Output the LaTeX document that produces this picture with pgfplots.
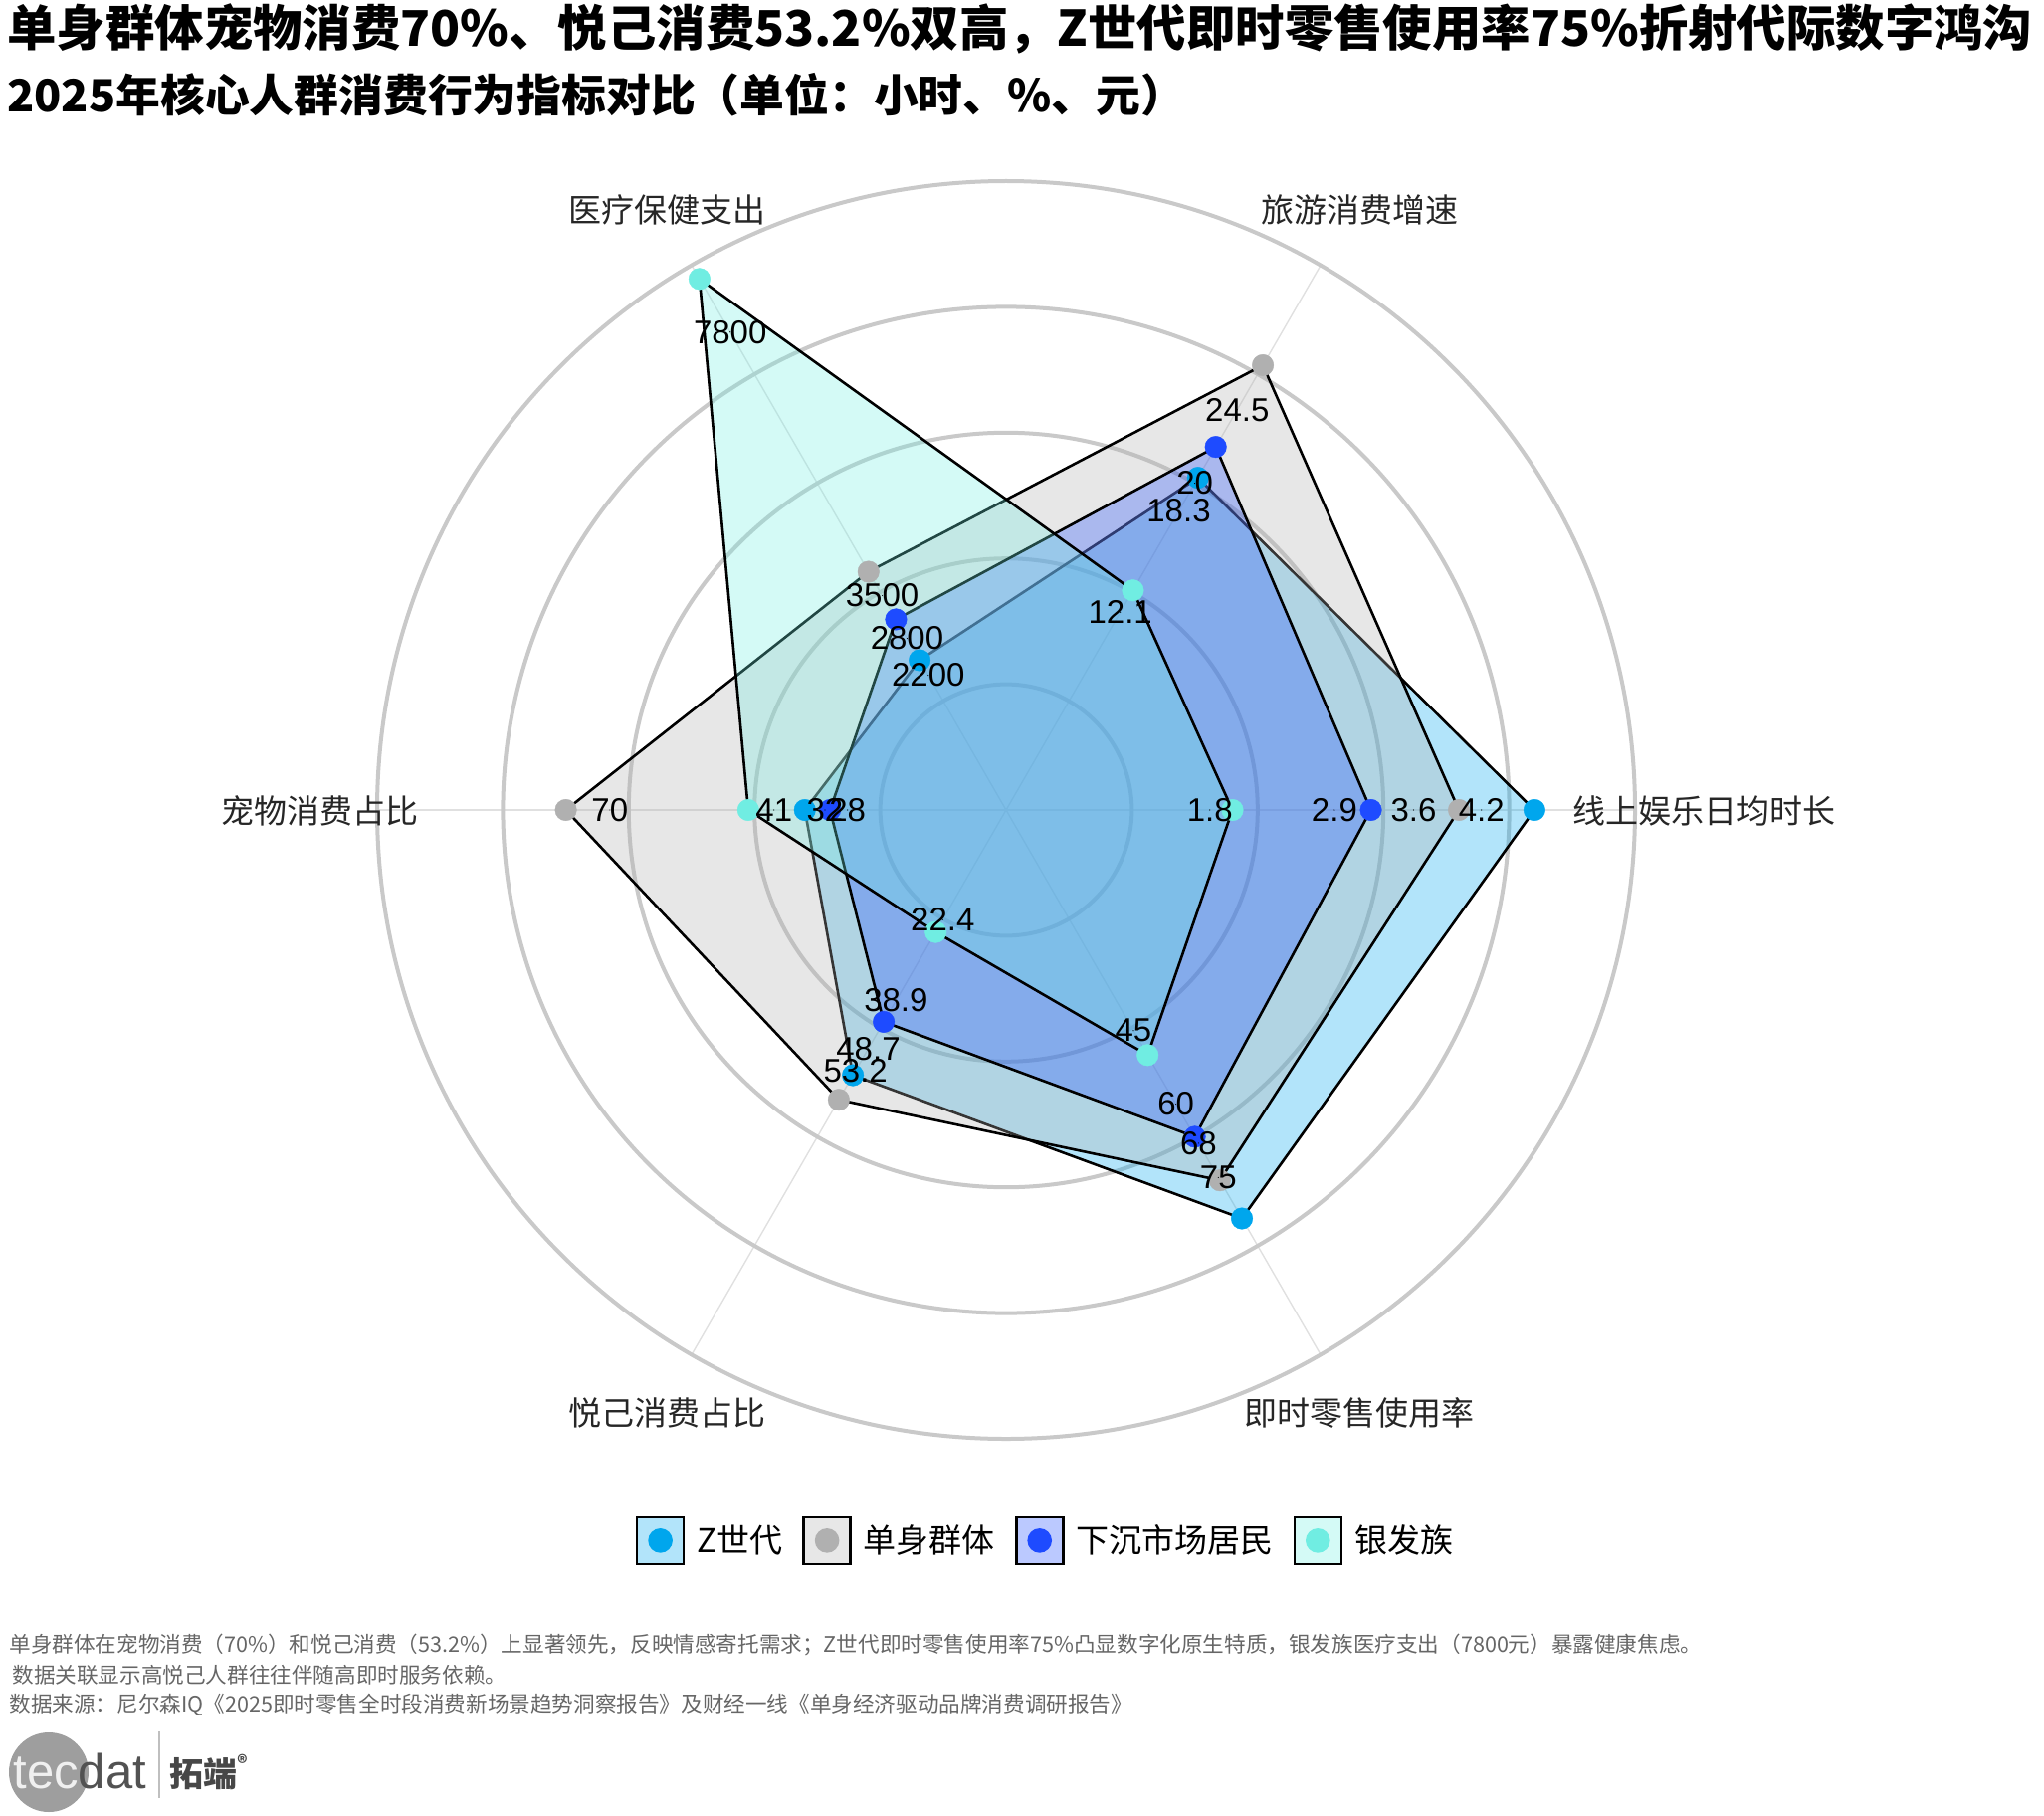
\documentclass[border=0pt]{standalone}
\usepackage{fontspec}
\setmainfont{Liberation Sans}
\newfontfamily\cjk{Noto Sans CJK SC}
\usepackage{pgfplots}
\pgfplotsset{compat=1.18}
\usepackage{pgfplotstable}

\definecolor{zc}{RGB}{0,166,237}
\definecolor{dc}{RGB}{176,176,176}
\definecolor{xc}{RGB}{30,75,255}
\definecolor{yc}{RGB}{112,237,226}

% one row per indicator: angle of its spoke, full-scale value, then the four groups
\pgfplotstableread{
ang max  z    dan  xia  yin
0   5    4.2  3.6  2.9  1.8
60  30   18.3 24.5 20   12.1
120 8000 2200 3500 2800 7800
180 100  32   70   28   41
240 100  48.7 53.2 38.9 22.4
300 100  75   68   60   45
}\radar

\pgfplotsset{
  area/.style={black, line width=1.3pt, fill=#1, fill opacity=0.3, mark=none,
    legend image code/.code={
      \draw[black, line width=1.3pt, fill=#1, fill opacity=0.3, draw opacity=1]
        (0pt,-11.75pt) rectangle (23.5pt,11.75pt);
      \fill[#1, fill opacity=1] (11.75pt,0pt) circle (5.5pt);}},
  dots/.style={only marks, color=#1, mark=*, mark size=5.4pt,
    mark options={solid, fill=#1, draw=#1, line width=0.2pt}, forget plot},
  vals/.style={only marks, mark=*, mark size=0.01pt,
    mark options={draw=none, fill=none}, forget plot,
    nodes near coords, point meta=explicit symbolic,
    nodes near coords align={center},
    every node near coord/.append style={anchor=center, inner sep=0pt,
      font=\fontsize{16.5pt}{18pt}\selectfont, text=black}},
}
\newcommand{\xr}[1]{\thisrow{#1}/\thisrow{max}*cos(\thisrow{ang})}
\newcommand{\yr}[1]{\thisrow{#1}/\thisrow{max}*sin(\thisrow{ang})}

\begin{document}
\begin{tikzpicture}
\begin{scope}[x=0.5pt,y=-0.5pt]
  \path (0,0) rectangle (2054,1824);
  \foreach \a in {0,60,...,300}
    \draw[black!12, line width=0.7pt] (1011,814) -- ++(\a:316pt);
  \foreach \r in {0.2,0.4,0.6,0.8,1.0}
    \draw[black!21, line width=2pt] (1011,814) circle[radius=\r*316pt];
\end{scope}

\begin{axis}[
  at={(505.5pt,-407pt)}, anchor=center,
  hide axis, scale only axis, width=632pt, height=632pt,
  xmin=-1, xmax=1, ymin=-1, ymax=1, clip=false,
  legend columns=4,
  legend style={at={(0.532,-0.081)}, anchor=center, draw=none, fill=none,
    font=\cjk\fontsize{16.5pt}{18pt}\selectfont,
    /tikz/every odd column/.append style={column sep=4pt},
    /tikz/every even column/.append style={column sep=8pt}},
]
\addplot[area=zc] table[x expr=\xr{z}, y expr=\yr{z}] {\radar} -- cycle;
\addlegendentry{Z世代}
\addplot[area=dc] table[x expr=\xr{dan}, y expr=\yr{dan}] {\radar} -- cycle;
\addlegendentry{单身群体}
\addplot[area=xc] table[x expr=\xr{xia}, y expr=\yr{xia}] {\radar} -- cycle;
\addlegendentry{下沉市场居民}
\addplot[area=yc] table[x expr=\xr{yin}, y expr=\yr{yin}] {\radar} -- cycle;
\addlegendentry{银发族}

\addplot[dots=zc] table[x expr=\xr{z}, y expr=\yr{z}] {\radar};
\addplot[dots=dc] table[x expr=\xr{dan}, y expr=\yr{dan}] {\radar};
\addplot[dots=xc] table[x expr=\xr{xia}, y expr=\yr{xia}] {\radar};
\addplot[dots=yc] table[x expr=\xr{yin}, y expr=\yr{yin}] {\radar};

\addplot[vals] table[x expr=0.9*\xr{z}, y expr=0.9*\yr{z}, meta=z] {\radar};
\addplot[vals] table[x expr=0.9*\xr{dan}, y expr=0.9*\yr{dan}, meta=dan] {\radar};
\addplot[vals] table[x expr=0.9*\xr{xia}, y expr=0.9*\yr{xia}, meta=xia] {\radar};
\addplot[vals] table[x expr=0.9*\xr{yin}, y expr=0.9*\yr{yin}, meta=yin] {\radar};
\end{axis}

\begin{scope}[x=0.5pt,y=-0.5pt, every node/.style={inner sep=0pt}]
  \node[anchor=west, font=\cjk\bfseries\fontsize{24.7pt}{28pt}\selectfont] at (7,29)
    {单身群体宠物消费70\%、悦己消费53.2\%双高，Z世代即时零售使用率75\%折射代际数字鸿沟};
  \node[anchor=west, font=\cjk\bfseries\fontsize{22.4pt}{26pt}\selectfont] at (7,95)
    {2025年核心人群消费行为指标对比（单位：小时、\%、元）};

  \begin{scope}[every node/.append style={font=\cjk\fontsize{16.5pt}{18pt}\selectfont, text=black!85}]
    \node at (1712,815) {线上娱乐日均时长};
    \node at (1366,211) {旅游消费增速};
    \node at (670,211) {医疗保健支出};
    \node at (321,815) {宠物消费占比};
    \node at (670,1420) {悦己消费占比};
    \node at (1366,1420) {即时零售使用率};
  \end{scope}

  \begin{scope}[every node/.append style={anchor=west, font=\cjk\fontsize{10.8pt}{12pt}\selectfont, text=black!60}]
    \node at (9,1653) {单身群体在宠物消费（70\%）和悦己消费（53.2\%）上显著领先，反映情感寄托需求；Z世代即时零售使用率75\%凸显数字化原生特质，银发族医疗支出（7800元）暴露健康焦虑。};
    \node at (12,1683) {数据关联显示高悦己人群往往伴随高即时服务依赖。};
    \node at (9,1713) {数据来源：尼尔森IQ《2025即时零售全时段消费新场景趋势洞察报告》及财经一线《单身经济驱动品牌消费调研报告》};
  \end{scope}

  % logo
  \fill[black!38] (49,1781) circle[radius=20pt];
  \node[anchor=west, font=\fontsize{24.5pt}{26pt}\selectfont] at (13,1780)
    {\textcolor{black!6}{tec}\textcolor{black!68}{dat}};
  \draw[black!25, line width=0.6pt] (160,1740) -- (160,1807);
  \node[anchor=west, font=\cjk\bfseries\fontsize{17pt}{19pt}\selectfont, text=black!72] at (170,1781)
    {拓端\raisebox{0.45em}{\fontsize{10pt}{11pt}\selectfont ®}};
\end{scope}
\end{tikzpicture}
\end{document}
